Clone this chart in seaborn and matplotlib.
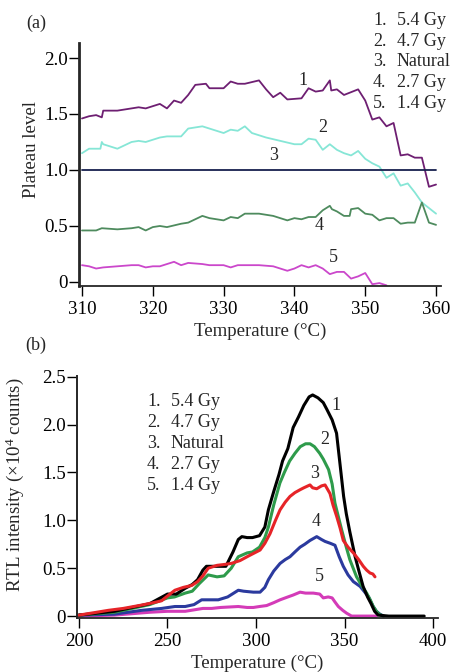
import numpy as np
import pandas as pd
import matplotlib
matplotlib.use("Agg")
import matplotlib.pyplot as plt
import seaborn as sns

# ---------------- Data: panel (a) plateau test ----------------
a1_x = [310, 311, 312, 312.8, 313, 315, 317, 318, 319, 320, 321, 322, 323, 324, 325, 326, 327.5, 328, 330, 331,
        332, 333, 335, 336, 337, 338, 339, 341, 342, 343, 344, 345, 345.2, 346, 347, 349, 350, 351, 352, 353,
        354, 355, 356, 357, 358, 359, 360]
a1_y = [1.46, 1.48, 1.49, 1.47, 1.53, 1.53, 1.55, 1.56, 1.55, 1.57, 1.59, 1.55, 1.62, 1.60, 1.67, 1.76, 1.77, 1.73, 1.73, 1.79,
        1.77, 1.77, 1.80, 1.72, 1.65, 1.69, 1.63, 1.64, 1.73, 1.70, 1.71, 1.80, 1.71, 1.72, 1.67, 1.72, 1.62, 1.45, 1.47, 1.39,
        1.42, 1.13, 1.14, 1.11, 1.11, 0.85, 0.87]

a2_x = [310, 311, 312, 312.6, 312.8, 313, 315, 317, 318, 319, 320, 321, 322, 324, 325, 327, 328, 330, 331, 332,
        333, 334, 336, 338, 340, 341, 342, 343, 344, 345, 346, 347, 348, 349, 350, 351, 352, 353, 354, 355,
        356, 357, 358, 359, 360]
a2_y = [1.15, 1.19, 1.19, 1.19, 1.25, 1.23, 1.19, 1.25, 1.26, 1.25, 1.27, 1.29, 1.30, 1.30, 1.37, 1.39, 1.37, 1.33, 1.36, 1.35,
        1.39, 1.33, 1.29, 1.26, 1.23, 1.23, 1.28, 1.27, 1.18, 1.23, 1.18, 1.15, 1.13, 1.17, 1.10, 1.06, 1.03, 0.93, 0.97, 0.86,
        0.88, 0.80, 0.71, 0.66, 0.61]

a3_x = [310, 360]
a3_y = [1.0, 1.0]

a4_x = [310, 312, 312.8, 315, 317, 318, 319, 320, 321, 322, 324, 325, 326, 327, 328, 330, 331, 332, 333, 335,
        337, 339, 340, 341, 342, 343, 344, 345, 345.3, 346, 347, 347.8, 348, 349, 350, 351, 352, 353, 354, 355,
        356, 357, 358, 359, 360]
a4_y = [0.46, 0.46, 0.48, 0.47, 0.48, 0.49, 0.46, 0.49, 0.50, 0.49, 0.52, 0.53, 0.56, 0.59, 0.57, 0.55, 0.58, 0.57, 0.61, 0.61,
        0.59, 0.55, 0.57, 0.56, 0.58, 0.58, 0.64, 0.68, 0.65, 0.63, 0.59, 0.59, 0.65, 0.66, 0.61, 0.60, 0.55, 0.57, 0.57, 0.52,
        0.53, 0.53, 0.71, 0.53, 0.51]

a5_x = [310, 311, 312, 313, 315, 317, 318, 319, 320, 321, 322, 323, 324, 325, 327, 328, 330, 331, 332, 335,
        337, 339, 340, 341, 342, 343, 344, 345, 346, 347, 348, 349, 350, 351, 352, 353]
a5_y = [0.15, 0.14, 0.12, 0.13, 0.14, 0.15, 0.15, 0.13, 0.14, 0.14, 0.16, 0.18, 0.15, 0.17, 0.16, 0.15, 0.15, 0.13, 0.15, 0.15,
        0.14, 0.10, 0.12, 0.15, 0.13, 0.15, 0.12, 0.07, 0.09, 0.09, 0.03, 0.05, 0.08, -0.02, -0.01, -0.03]

# ---------------- Data: panel (b) RTL glow curves ----------------
b1_x = [200, 210, 220, 230, 240, 247, 250, 255, 260, 264, 267, 270, 272, 280, 283, 287, 290, 292, 295, 298,
        302, 305, 307, 310, 313, 315, 318, 321, 324, 327, 330, 332, 335, 338, 340, 343, 345.5, 347.5, 349.5, 351,
        353, 356, 358, 360.5, 363, 365, 367, 369, 375, 385, 395]
b1_y = [0.01, 0.03, 0.05, 0.09, 0.13, 0.20, 0.23, 0.23, 0.29, 0.33, 0.38, 0.48, 0.52, 0.52, 0.52, 0.67, 0.80, 0.83, 0.82, 0.82,
        0.84, 0.93, 1.11, 1.30, 1.48, 1.62, 1.75, 1.97, 2.08, 2.20, 2.29, 2.31, 2.28, 2.23, 2.16, 2.05, 1.91, 1.58, 1.25, 1.07,
        0.88, 0.62, 0.48, 0.31, 0.20, 0.13, 0.05, 0.01, 0.0, 0.0, 0.0]

b2_x = [200, 220, 240, 250, 254, 260, 264, 268, 273, 278, 282, 286, 290, 295, 298, 302, 305, 307, 310, 313.5,
        316, 319, 322, 325, 328, 330.5, 333, 336, 338, 341, 343, 344.6, 346.5, 348.4, 351, 353, 356.8, 360, 362.5, 364.5,
        366.2, 368, 369.5, 372]
b2_y = [0.01, 0.04, 0.12, 0.19, 0.20, 0.24, 0.26, 0.34, 0.43, 0.41, 0.42, 0.50, 0.62, 0.66, 0.67, 0.72, 0.82, 0.93, 1.16, 1.39,
        1.50, 1.62, 1.70, 1.77, 1.80, 1.80, 1.77, 1.70, 1.64, 1.53, 1.38, 1.18, 1.04, 0.90, 0.72, 0.59, 0.41, 0.31, 0.24, 0.17,
        0.10, 0.05, 0.02, 0.0]

b3_x = [200, 210, 216.6, 225, 235.4, 242, 246.7, 250, 254.2, 259, 263.7, 267, 270, 273, 278, 282.5, 286, 291, 296, 302.3,
        305, 307.9, 311, 313.6, 316.5, 319.2, 322, 324.9, 327, 330.5, 332, 334.3, 337, 339, 341.8, 343.5, 345.6, 347.5, 349.3, 352,
        355, 358, 360.6, 362.5, 364.4, 366, 367.2]
b3_y = [0.01, 0.04, 0.06, 0.08, 0.115, 0.14, 0.16, 0.21, 0.27, 0.30, 0.32, 0.36, 0.42, 0.50, 0.53, 0.54, 0.55, 0.58, 0.63, 0.69,
        0.76, 0.86, 1.00, 1.11, 1.19, 1.25, 1.29, 1.32, 1.34, 1.37, 1.34, 1.33, 1.36, 1.37, 1.28, 1.16, 1.04, 0.92, 0.79, 0.72,
        0.66, 0.59, 0.52, 0.48, 0.45, 0.44, 0.41]

b4_x = [200, 220, 235.4, 246.7, 254.2, 260, 265, 269.3, 274, 278.7, 284, 290, 293, 298.5, 302.3, 305, 307, 310, 313.6, 316.5,
        319.2, 322, 324.9, 327.5, 330.5, 334.3, 337, 339, 342, 344.6, 347, 349.3, 352, 355, 358.8, 361, 363.6, 366.2, 368, 370,
        372]
b4_y = [0.01, 0.02, 0.06, 0.08, 0.10, 0.10, 0.12, 0.17, 0.17, 0.17, 0.20, 0.27, 0.26, 0.25, 0.25, 0.30, 0.38, 0.47, 0.55, 0.59,
        0.62, 0.67, 0.72, 0.75, 0.79, 0.83, 0.80, 0.78, 0.76, 0.74, 0.62, 0.52, 0.43, 0.36, 0.31, 0.26, 0.20, 0.10, 0.05, 0.02,
        0.0]

b5_x = [200, 220, 240, 250, 260, 270, 275, 280, 290, 295, 298.5, 302, 306, 310, 313.6, 318, 321, 324.9, 328, 332.4,
        336, 338, 340.8, 343, 344.5, 346.5, 349, 351.2, 354, 360, 368]
b5_y = [0.00, 0.01, 0.04, 0.05, 0.05, 0.08, 0.08, 0.09, 0.10, 0.09, 0.09, 0.10, 0.11, 0.14, 0.17, 0.20, 0.22, 0.25, 0.24, 0.24,
        0.23, 0.19, 0.20, 0.19, 0.15, 0.10, 0.06, 0.03, 0.0, 0.0, 0.0]

legend_nums = ["1.", "2.", "3.", "4.", "5."]
legend_names = ["5.4 Gy", "4.7 Gy", "Natural", "2.7 Gy", "1.4 Gy"]
a_ticks_x = [310, 320, 330, 340, 350, 360]
a_ticks_y = [0, 0.5, 1.0, 1.5, 2.0]
a_ticklabels_y = ["0", "0.5", "1.0", "1.5", "2.0"]
b_ticks_x = [200, 250, 300, 350, 400]
b_ticks_y = [0, 0.5, 1.0, 1.5, 2.0, 2.5]
b_ticklabels_y = ["0", "0.5", "1.0", "1.5", "2.0", "2.5"]

# ---------------- Style ----------------
sns.set_style("ticks")
plt.rcParams['font.family'] = ['Liberation Serif', 'DejaVu Serif']
plt.rcParams['mathtext.fontset'] = 'custom'
plt.rcParams['mathtext.rm'] = 'Liberation Serif'
plt.rcParams['mathtext.it'] = 'Liberation Serif:italic'
FS = 13
FSA = 13.6

W, H = 452, 672
fig = plt.figure(figsize=(W / 100, H / 100), dpi=100)


def ax_at(l, t, r, b):
    return fig.add_axes([l / W, 1 - b / H, (r - l) / W, (b - t) / H])


def df_of(xs, ys):
    return pd.DataFrame({"x": xs, "y": ys})


# ---------------- Panel (a) ----------------
axa = ax_at(79, 43, 441, 286)
cols_a = ["#6E1F72", "#86E6D6", "#17204E", "#4E8B5E", "#CB47CB"]
series_a = [(a1_x, a1_y), (a2_x, a2_y), (a3_x, a3_y), (a4_x, a4_y), (a5_x, a5_y)]
for (xs, ys), c in zip(series_a, cols_a):
    sns.lineplot(data=df_of(xs, ys), x="x", y="y", ax=axa, color=c, lw=1.3,
                 sort=False, estimator=None)
axa.set_xlim(309.58, 360.7)
axa.set_ylim(-0.036, 2.134)
axa.set_xticks(a_ticks_x)
axa.set_yticks(a_ticks_y)
axa.set_yticklabels(a_ticklabels_y)
axa.set_xlabel("Temperature (°C)", fontsize=FSA, labelpad=3)
axa.set_ylabel("Plateau level", fontsize=FSA)
axa.yaxis.set_label_coords(-0.108, 0.56)
for lab, (tx, ty) in zip(["1", "2", "3", "4", "5"],
                         [(341.2, 1.80), (344.0, 1.38), (337.0, 1.13), (343.5, 0.50), (345.5, 0.22)]):
    axa.text(tx, ty, lab, fontsize=FS, ha="center", va="center")

# ---------------- Panel (b) ----------------
axb = ax_at(77, 376, 438, 618)
cols_b = ["#000000", "#2E9B4B", "#E62428", "#2B3A9E", "#D43BB8"]
series_b = [(b1_x, b1_y), (b2_x, b2_y), (b3_x, b3_y), (b4_x, b4_y), (b5_x, b5_y)]
order = [4, 3, 1, 0, 2]
for i in order:
    xs, ys = series_b[i]
    sns.lineplot(data=df_of(xs, ys), x="x", y="y", ax=axb, color=cols_b[i], lw=2.2,
                 sort=False, estimator=None)
axb.set_xlim(198.9, 402.8)
axb.set_ylim(-0.02, 2.508)
axb.set_xticks(b_ticks_x)
axb.set_yticks(b_ticks_y)
axb.set_yticklabels(b_ticklabels_y)
axb.set_xlabel("Temperature (°C)", fontsize=FSA, labelpad=3)
axb.set_ylabel("RTL intensity (×10$^{4}$ counts)", fontsize=FSA)
axb.yaxis.set_label_coords(-0.141, 0.55)
for lab, (tx, ty) in zip(["1", "2", "3", "4", "5"],
                         [(345.2, 2.20), (339.0, 1.84), (333.3, 1.49), (333.9, 0.99), (335.6, 0.41)]):
    axb.text(tx, ty, lab, fontsize=FS, ha="center", va="center")

for ax, lw_left in [(axa, 2.0), (axb, 1.4)]:
    sns.despine(ax=ax)
    ax.spines["left"].set_linewidth(lw_left)
    ax.spines["bottom"].set_linewidth(1.3)
    ax.tick_params(axis="both", direction="out", length=7, width=1, labelsize=FSA, colors="black")
    ax.tick_params(axis="y", pad=1)
    ax.tick_params(axis="x", pad=4)

# ---------------- Legends / panel tags ----------------
for i, (n, s) in enumerate(zip(legend_nums, legend_names)):
    y = 20.5 + i * 20.7
    fig.text(373 / W, 1 - y / H, n, fontsize=FS, va="center", ha="left")
    fig.text(397 / W, 1 - y / H, s, fontsize=FS, va="center", ha="left")
for i, (n, s) in enumerate(zip(legend_nums, legend_names)):
    y = 401.5 + i * 21.0
    fig.text(147 / W, 1 - y / H, n, fontsize=FS, va="center", ha="left")
    fig.text(171 / W, 1 - y / H, s, fontsize=FS, va="center", ha="left")

fig.text(26 / W, 1 - 23 / H, "(a)", fontsize=FS, va="center", ha="left")
fig.text(25 / W, 1 - 345 / H, "(b)", fontsize=FS, va="center", ha="left")

fig.savefig("out.png", dpi=100, facecolor="white")
